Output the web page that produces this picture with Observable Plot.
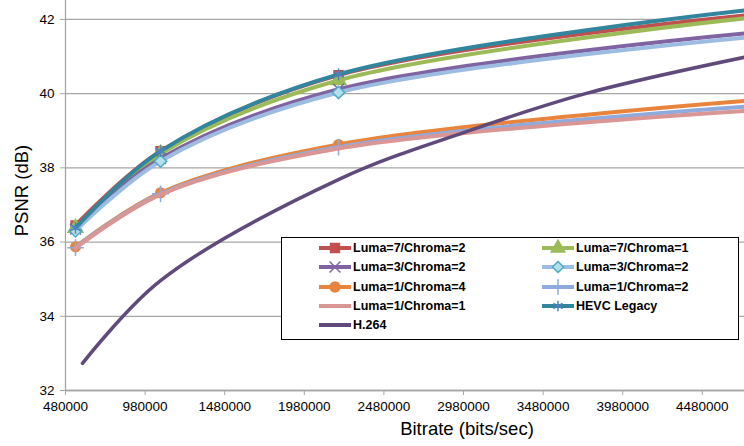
<!DOCTYPE html>
<html>
<head>
<meta charset="utf-8">
<script src="https://cdn.jsdelivr.net/npm/d3@7"></script>
<script src="https://cdn.jsdelivr.net/npm/@observablehq/plot@0.6"></script>
<style>
  html, body { margin: 0; padding: 0; background: #fff; }
  #wrap { position: relative; width: 744px; height: 446px; overflow: hidden; }
  #legend { position: absolute; left: 281px; top: 237px; width: 456px; height: 101px;
            border: 1px solid #000; background: #fff; font-family: "Liberation Sans", sans-serif;
            font-weight: bold; font-size: 12.5px; color: #000; }
  .item { position: absolute; height: 18px; display: flex; align-items: center; }
  .item svg { display: block; }
  .item span { margin-left: 1px; white-space: nowrap; }
</style>
</head>
<body>
<div id="wrap"><div id="chart"></div><div id="legend"></div></div>
<script>
// ---- data ----
const seriesNames = ["Luma=7/Chroma=2", "Luma=7/Chroma=1", "Luma=3/Chroma=2", "Luma=3/Chroma=2",
                     "Luma=1/Chroma=4", "Luma=1/Chroma=2", "Luma=1/Chroma=1", "HEVC Legacy", "H.264"];
const lineColors = ["#C0504D", "#9BBB59", "#8064A2", "#9DBCE2", "#E8843C", "#8FAADC", "#D99694", "#31859C", "#604A7B"];
const markerSymbols = ["square", "triangle", "times", "diamond2", "circle", "plus", null, "asterisk", null];
const markerFills = ["#C0504D", "#9BBB59", "none", "#B7DEE8", "#E8843C", "none", null, "none", null];
const markerStrokes = ["#C0504D", "#9BBB59", "#8064A2", "#4BACC6", "#E8843C", "#8FAADC", null, "#4F81BD", null];

const hevcBitrates = [543000, 1077000, 2195000, 4745000];
const luma7chroma2 = [36.45, 38.45, 40.50, 42.11];
const luma7chroma1 = [36.38, 38.38, 40.36, 42.03];
const luma3chroma2a = [36.35, 38.25, 40.12, 41.62];
const luma3chroma2b = [36.30, 38.18, 40.03, 41.51];
const luma1chroma4 = [35.87, 37.33, 38.63, 39.80];
const luma1chroma2 = [35.85, 37.30, 38.56, 39.65];
const luma1chroma1 = [35.83, 37.28, 38.52, 39.53];
const hevcLegacy = [36.38, 38.45, 40.52, 42.24];

const h264Bitrates = [586800, 1076700, 2207400, 2980000, 3746000, 4745000];
const h264 = [32.73, 34.96, 37.71, 38.95, 40.00, 40.98];

const xTicks = [480000, 980000, 1480000, 1980000, 2480000, 2980000, 3480000, 3980000, 4480000];
const yTicks = [32, 34, 36, 38, 40, 42];

// ---- build table ----
const valueSets = [luma7chroma2, luma7chroma1, luma3chroma2a, luma3chroma2b, luma1chroma4, luma1chroma2, luma1chroma1, hevcLegacy];
const series = valueSets.map((vals, i) => vals.map((v, j) => ({s: i, bitrate: hevcBitrates[j], psnr: v, j})));
series.push(h264.map((v, j) => ({s: 8, bitrate: h264Bitrates[j], psnr: v, j})));

const xMax = 4745000;
const marks = [
  Plot.gridY(yTicks, {stroke: "#A6A6A6", strokeOpacity: 1, strokeWidth: 1.3}),
  Plot.ruleX([480000], {stroke: "#A6A6A6", strokeWidth: 1.3}),
  Plot.ruleY([32], {stroke: "#A6A6A6", strokeWidth: 1.3}),
  Plot.axisX({ticks: xTicks, tickFormat: d => String(d), tickSize: 5, tickPadding: 6, stroke: "#A6A6A6", fill: "#000", fontSize: 13.5, label: null}),
  Plot.axisY({ticks: yTicks, tickSize: 5, tickPadding: 6, stroke: "#A6A6A6", fill: "#000", fontSize: 13.5, label: null}),
];
series.forEach((data, i) => {
  marks.push(Plot.line(data, {x: "bitrate", y: "psnr", stroke: lineColors[i], strokeWidth: i === 8 ? 3.5 : 4, curve: "catmull-rom", clip: true}));
  if (markerSymbols[i]) {
    const r = {square: 5, triangle: 5.5, times: 5, diamond2: 5.5, circle: 4.8, plus: 5.5, asterisk: 5.5}[markerSymbols[i]];
    marks.push(Plot.dot(data.filter(d => d.bitrate < xMax), {x: "bitrate", y: "psnr", symbol: () => markerSymbols[i],
      r, fill: markerFills[i], stroke: markerStrokes[i], strokeWidth: 1.5}));
  }
});
marks.push(Plot.text(["Bitrate (bits/sec)"], {frameAnchor: "bottom", dx: 62, dy: 44, text: d => d, fontSize: 18.5, fill: "#000", textAnchor: "middle"}));
marks.push(Plot.text(["PSNR (dB)"], {frameAnchor: "left", dx: -43, dy: -5, rotate: -90, text: d => d, fontSize: 18.5, fill: "#000", textAnchor: "middle"}));

const chart = Plot.plot({
  width: 744, height: 446,
  marginLeft: 65, marginRight: 0, marginTop: 0, marginBottom: 56,
  x: {domain: [480000, xMax], axis: null},
  y: {domain: [32, 42.51], axis: null},
  style: {fontFamily: "Liberation Sans, sans-serif", background: "#fff", overflow: "visible"},
  marks
});
document.getElementById("chart").appendChild(chart);

// ---- legend ----
const legend = document.getElementById("legend");
const legendOrder = [0, 1, 2, 3, 4, 5, 6, 7, 8];
legendOrder.forEach((i, k) => {
  const col = k % 2, row = Math.floor(k / 2);
  const div = document.createElement("div");
  div.className = "item";
  div.style.left = (col === 0 ? 36 : 259) + "px";
  div.style.top = (1 + row * 19.3) + "px";
  const svg = d3.create("svg").attr("width", 34).attr("height", 18);
  svg.append("line").attr("x1", 1).attr("x2", 33).attr("y1", 9).attr("y2", 9)
     .attr("stroke", lineColors[i]).attr("stroke-width", 4);
  if (markerSymbols[i]) {
    const map = {square: d3.symbolSquare, triangle: d3.symbolTriangle, times: d3.symbolTimes, diamond2: d3.symbolDiamond2,
                 circle: d3.symbolCircle, plus: d3.symbolPlus, asterisk: d3.symbolAsterisk};
    const rr = 5;
    svg.append("path").attr("transform", "translate(17,9)")
       .attr("d", d3.symbol(map[markerSymbols[i]], Math.PI * rr * rr)())
       .attr("fill", markerFills[i]).attr("stroke", markerStrokes[i]).attr("stroke-width", 1.5);
  }
  div.appendChild(svg.node());
  const span = document.createElement("span");
  span.textContent = seriesNames[i];
  div.appendChild(span);
  legend.appendChild(div);
});
</script>
</body>
</html>
